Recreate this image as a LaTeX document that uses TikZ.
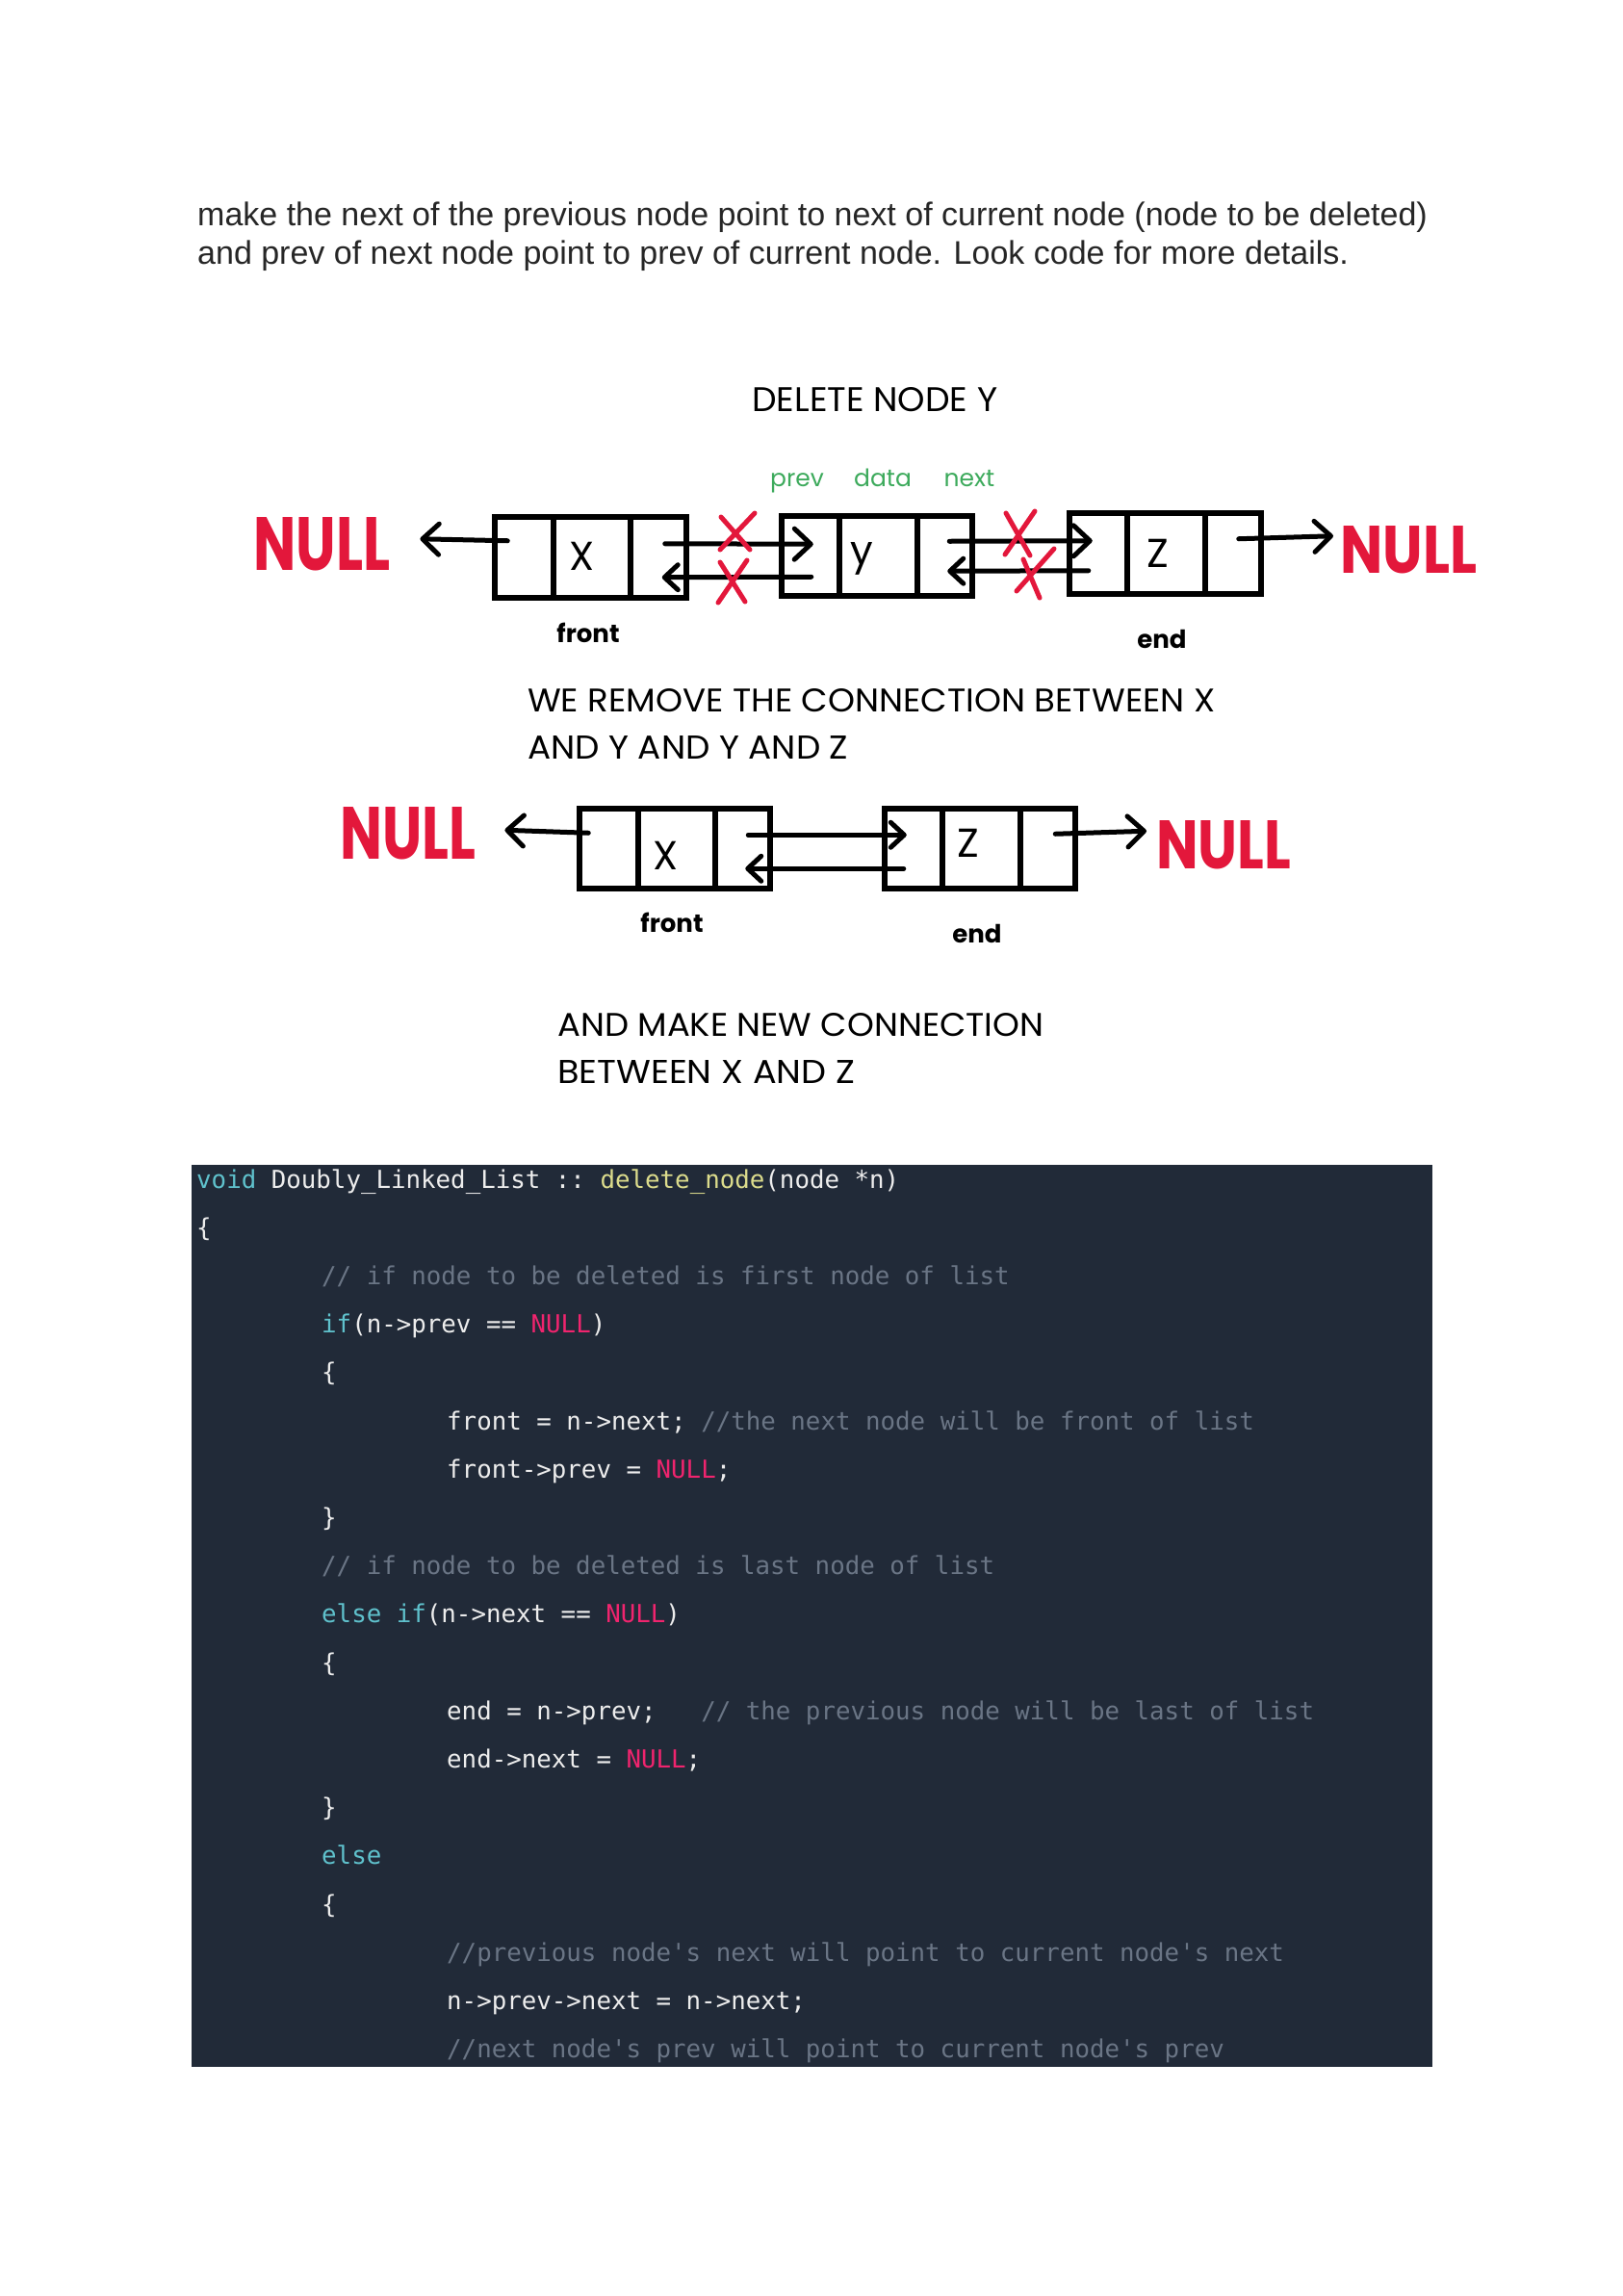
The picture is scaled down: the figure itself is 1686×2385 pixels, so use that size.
\documentclass[tikz,border=0pt]{standalone}
\usepackage{fontspec}
\setmonofont{DejaVu Sans Mono}
\newfontfamily\arialfont{Liberation Sans}
\newfontfamily\handfont{Poppins}
\usetikzlibrary{arrows.meta,calc}
\definecolor{nullred}{HTML}{E3173B}
\definecolor{lblgreen}{HTML}{3DAA5C}
\definecolor{codebg}{HTML}{212A38}
\definecolor{kwcol}{HTML}{5FC1CC}
\definecolor{fncol}{HTML}{DCDC8C}
\definecolor{nullcol}{HTML}{F0246E}
\definecolor{cmtcol}{HTML}{6A7585}
\definecolor{txtcol}{HTML}{EDEDED}
\definecolor{bodytext}{HTML}{262626}
\newcommand{\cKW}[1]{\textcolor{kwcol}{#1}}
\newcommand{\cFN}[1]{\textcolor{fncol}{#1}}
\newcommand{\cNL}[1]{\textcolor{nullcol}{#1}}
\newcommand{\cCM}[1]{\textcolor{cmtcol}{#1}}
\tikzset{
  cell/.style={draw=black, line width=5.5pt, rectangle, inner sep=0pt, anchor=north west},
  ptr/.style={line width=5pt, line cap=round, -{Straight Barb[length=17pt,width=32pt,round]}},
  sptr/.style={line width=5pt, line cap=round, -{Straight Barb[length=14pt,width=26pt,round]}},
  nulltxt/.style={anchor=base west, inner sep=0pt, text=nullred, font=\handfont\bfseries},
  caption/.style={anchor=base west, inner sep=0pt, text=black, font=\handfont},
  letter/.style={inner sep=0pt, font=\handfont\fontsize{42}{44}\selectfont},
  fieldlbl/.style={anchor=base, inner sep=0pt, text=lblgreen, font=\handfont\fontsize{25}{28}\selectfont},
  ptrlbl/.style={anchor=base, inner sep=0pt, font=\handfont\bfseries\fontsize{26}{28}\selectfont},
  redx/.style={draw=nullred, line width=5pt, line cap=round},
  bodyline/.style={anchor=base west, inner sep=0pt, text=bodytext, font=\arialfont\fontsize{34}{40}\selectfont},
  codeline/.style={anchor=base west, inner sep=0pt, text=txtcol, font=\ttfamily\fontsize{25.8}{30}\selectfont},
}
\begin{document}
\begin{tikzpicture}[x=1pt,y=-1pt]
\useasboundingbox[fill=white] (0,0) rectangle (1686,2385);

% intro text
\node[bodyline] (intro1) at (205,234) {make the next of the previous node point to next of current node (node to be deleted)};
\node[bodyline] (intro2) at (205,274) {and prev of next node point to prev of current node. Look code for more details.};

% ---------- diagram 1 ----------
\node[caption] (cap1) at (781,427) {\resizebox{255pt}{25pt}{DELETE NODE Y}};
\node[fieldlbl] (lprev) at (828,505) {prev};
\node[fieldlbl] (ldata) at (917,505) {data};
\node[fieldlbl] (lnext) at (1007,505) {next};

\node[cell, minimum width=61pt, minimum height=84pt] (x1p) at (511,534) {};
\node[cell, minimum width=80pt, minimum height=84pt] (x1d) at (572,534) {};
\node[cell, minimum width=58pt, minimum height=84pt] (x1n) at (652,534) {};
\node[cell, minimum width=60pt, minimum height=83pt] (y1p) at (809,533) {};
\node[cell, minimum width=81pt, minimum height=83pt] (y1d) at (869,533) {};
\node[cell, minimum width=57pt, minimum height=83pt] (y1n) at (950,533) {};
\node[cell, minimum width=60pt, minimum height=84pt] (z1p) at (1108,530) {};
\node[cell, minimum width=81pt, minimum height=84pt] (z1d) at (1168,530) {};
\node[cell, minimum width=58pt, minimum height=84pt] (z1n) at (1249,530) {};

\node[letter] (lx1) at (605,578) {X};
\node[letter] (ly1) at (895,580) {y};
\node[letter] (lz1) at (1203,575) {Z};

\node[nulltxt] (nl1) at (263,592) {\resizebox{142pt}{55pt}{NULL}};
\node[nulltxt] (nr1) at (1392,595) {\resizebox{142pt}{49pt}{NULL}};

\node[ptrlbl] (front1) at (611,667) {front};
\node[ptrlbl] (end1) at (1207,673) {end};

\draw[ptr] ([shift={(-17,-17)}]x1p.center) -- ([shift={(31,-5)}]nl1.east);
\draw[ptr] ([shift={(7,-14)}]x1n.center) -- ([shift={(3,-12)}]y1p.center);
\draw[sptr] ([shift={(1,22)}]y1p.center) -- ([shift={(4,21)}]x1n.center);
\draw[ptr] ([shift={(5,-15)}]y1n.center) -- ([shift={(-6,-13)}]z1p.center);
\draw[sptr] ([shift={(-10,18)}]z1p.center) -- ([shift={(3,16)}]y1n.center);
\draw[ptr] ([shift={(6,-15)}]z1n.center) -- ([shift={(-7,-14)}]nr1.west);

% red crosses
\draw[redx] (748,571) -- (784,533);
\draw[redx] (749,537) -- (779,571);
\draw[redx] (746,626) -- (776,582);
\draw[redx] (748,584) -- (774,625);
\draw[redx] (1044,576) -- (1075,531);
\draw[redx] (1045,533) -- (1070,577);
\draw[redx] (1056,614) -- (1095,570);
\draw[redx] (1063,581) -- (1080,621);

% ---------- caption between ----------
\node[caption] (cap2) at (548,739) {\resizebox{714pt}{24pt}{WE REMOVE THE CONNECTION BETWEEN X}};
\node[caption] (cap3) at (548,788) {\resizebox{333pt}{24pt}{AND Y AND Y AND Z}};

% ---------- diagram 2 ----------
\node[cell, minimum width=61pt, minimum height=83pt] (x2p) at (599,837) {};
\node[cell, minimum width=80pt, minimum height=83pt] (x2d) at (660,837) {};
\node[cell, minimum width=57pt, minimum height=83pt] (x2n) at (740,837) {};
\node[cell, minimum width=60pt, minimum height=83pt] (z2p) at (916,837) {};
\node[cell, minimum width=81pt, minimum height=83pt] (z2d) at (976,837) {};
\node[cell, minimum width=57pt, minimum height=83pt] (z2n) at (1057,837) {};

\node[letter] (lx2) at (692,889) {X};
\node[letter] (lz2) at (1006,876) {Z};

\node[nulltxt] (nl2) at (353,892) {\resizebox{141pt}{54pt}{NULL}};
\node[nulltxt] (nr2) at (1201,902) {\resizebox{140pt}{50pt}{NULL}};

\node[ptrlbl] (front2) at (698,968) {front};
\node[ptrlbl] (end2) at (1015,979) {end};

\draw[ptr] ([shift={(-21,-16)}]x2p.center) -- ([shift={(30,-3)}]nl2.east);
\draw[sptr] ([shift={(6,-14)}]x2n.center) -- ([shift={(-7,-14)}]z2p.center);
\draw[sptr] ([shift={(-10,21)}]z2p.center) -- ([shift={(3,21)}]x2n.center);
\draw[ptr] ([shift={(8,-15)}]z2n.center) -- ([shift={(-10,-14)}]nr2.west);

\node[caption] (cap4) at (579,1076) {\resizebox{505pt}{24pt}{AND MAKE NEW CONNECTION}};
\node[caption] (cap5) at (579,1125) {\resizebox{309pt}{24pt}{BETWEEN X AND Z}};

% ---------- code ----------
\path[fill=codebg] (199,1210) rectangle (1488,2147);
\begin{scope}
\clip (199,1210) rectangle (1488,2147);
\node[codeline] (c1) at (204,1234) {\cKW{void} Doubly\_Linked\_List :: \cFN{delete\_node}(node *n)};
\node[codeline] (c2) at (204,1284.2) {\{};
\node[codeline] (c3) at (334,1334.4) {\cCM{// if node to be deleted is first node of list}};
\node[codeline] (c4) at (334,1384.6) {\cKW{if}(n->prev == \cNL{NULL})};
\node[codeline] (c5) at (334,1434.8) {\{};
\node[codeline] (c6) at (464,1485) {front = n->next; \cCM{//the next node will be front of list}};
\node[codeline] (c7) at (464,1535.2) {front->prev = \cNL{NULL};};
\node[codeline] (c8) at (334,1585.4) {\}};
\node[codeline] (c9) at (334,1635.6) {\cCM{// if node to be deleted is last node of list}};
\node[codeline] (c10) at (334,1685.8) {\cKW{else if}(n->next == \cNL{NULL})};
\node[codeline] (c11) at (334,1736) {\{};
\node[codeline] (c12) at (464,1786.2) {end = n->prev;~~~\cCM{// the previous node will be last of list}};
\node[codeline] (c13) at (464,1836.4) {end->next = \cNL{NULL};};
\node[codeline] (c14) at (334,1886.6) {\}};
\node[codeline] (c15) at (334,1936.8) {\cKW{else}};
\node[codeline] (c16) at (334,1987) {\{};
\node[codeline] (c17) at (464,2037.2) {\cCM{//previous node's next will point to current node's next}};
\node[codeline] (c18) at (464,2087.4) {n->prev->next = n->next;};
\node[codeline] (c19) at (464,2137.6) {\cCM{//next node's prev will point to current node's prev}};
\end{scope}
\end{tikzpicture}
\end{document}
